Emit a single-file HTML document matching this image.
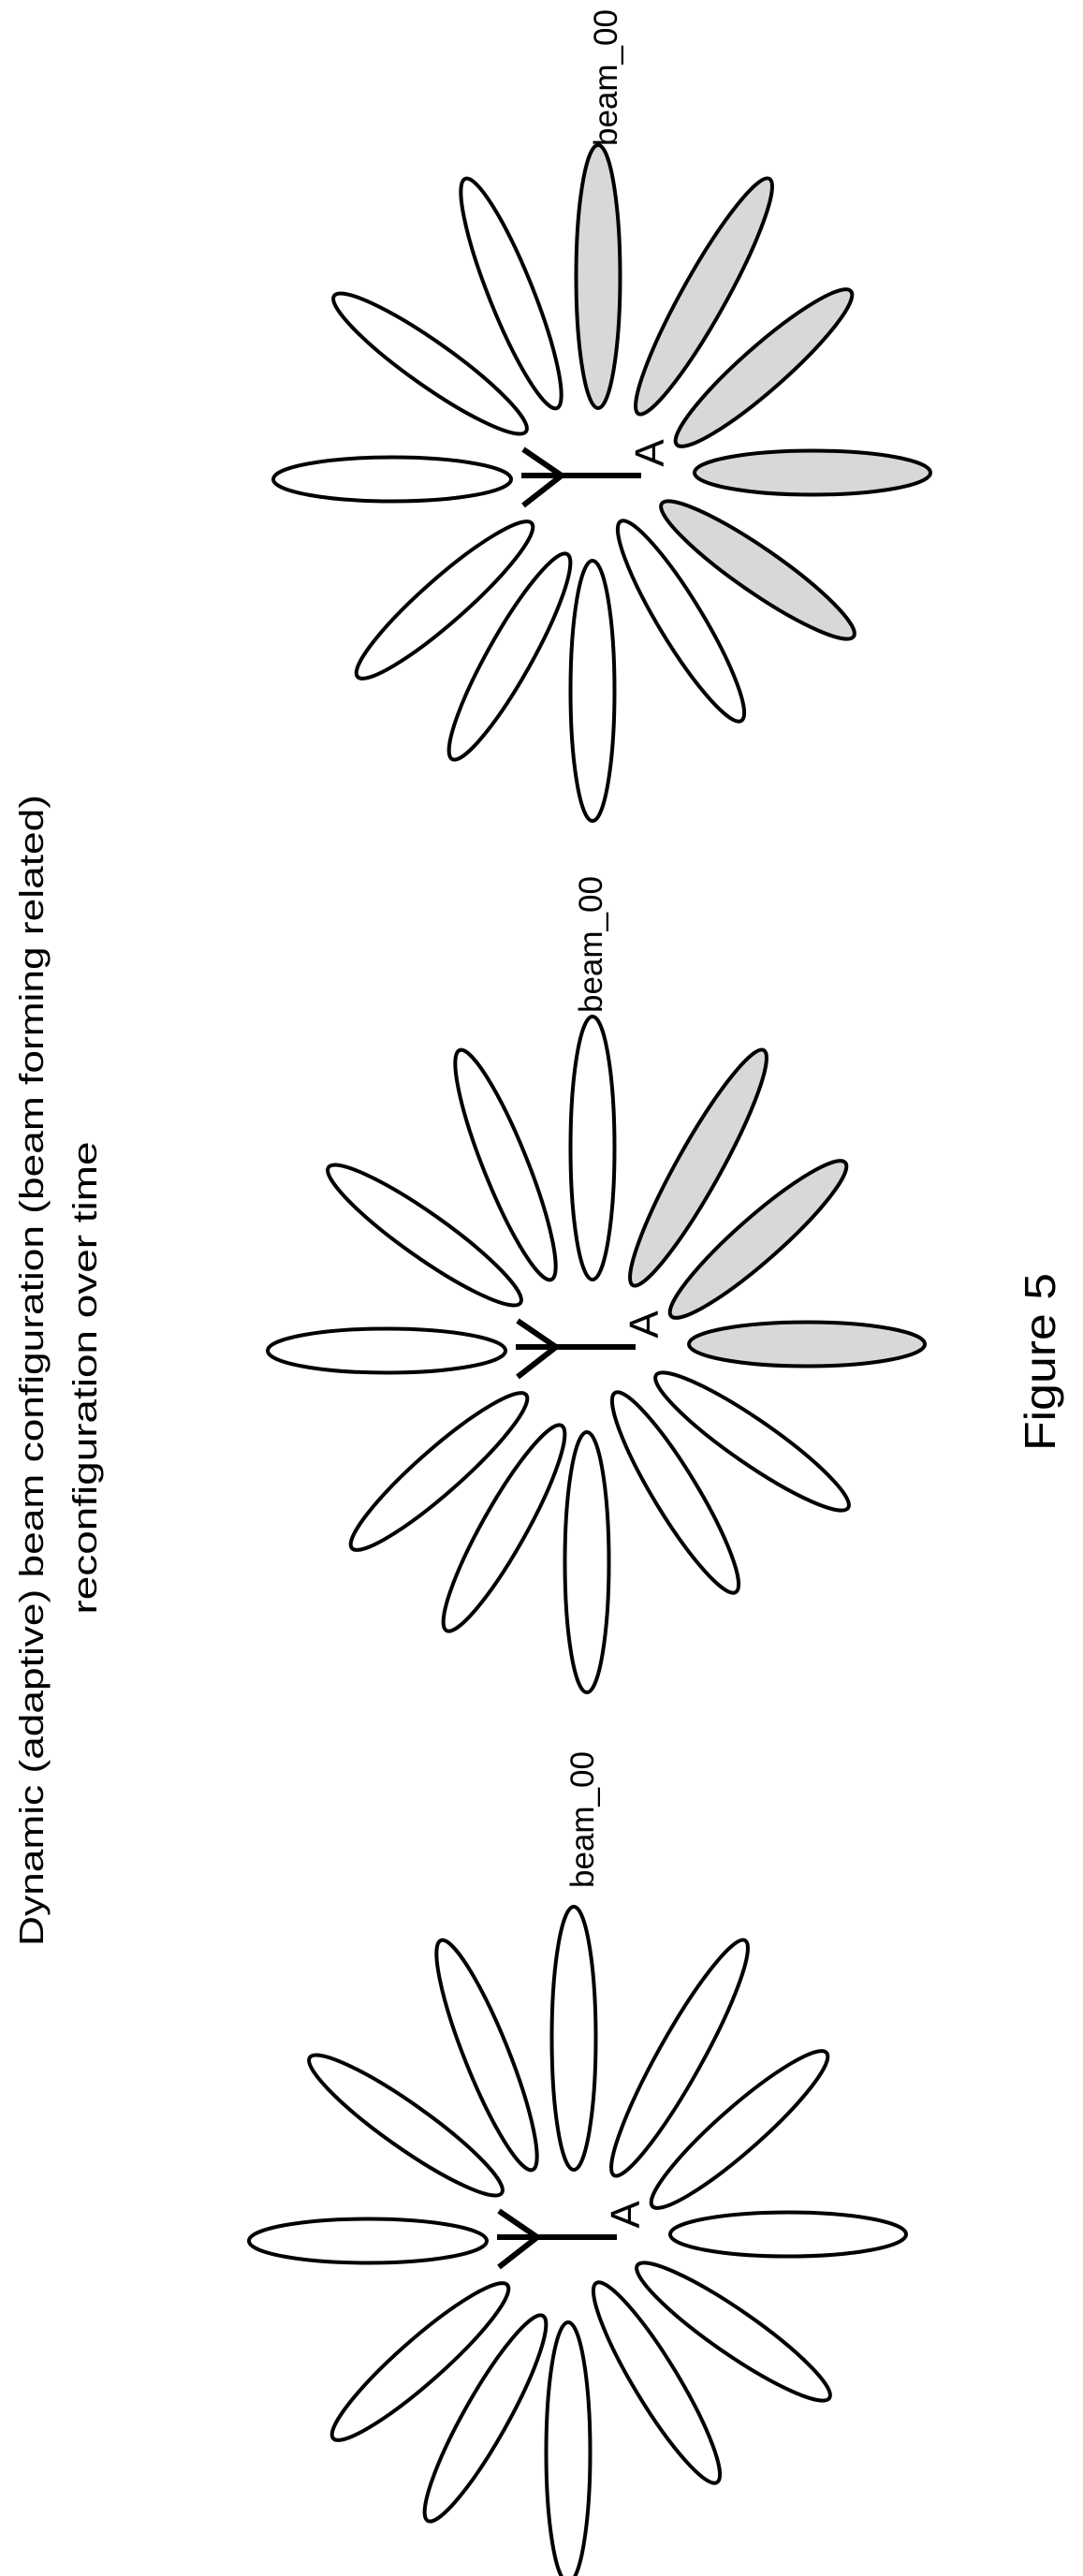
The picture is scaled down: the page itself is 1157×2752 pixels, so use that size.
<!DOCTYPE html>
<html><head><meta charset="utf-8"><style>
html,body{margin:0;padding:0;background:#fff;}
svg{display:block;}
text{font-family:"Liberation Sans",sans-serif;fill:#000;}
</style></head>
<body>
<svg id="fig" width="1157" height="2752" viewBox="0 0 1157 2752" xmlns="http://www.w3.org/2000/svg">
  <text transform="translate(46,1464) rotate(-90)" text-anchor="middle" font-size="36" textLength="1230" lengthAdjust="spacingAndGlyphs">Dynamic (adaptive) beam configuration (beam forming related)</text>
  <text transform="translate(103,1472) rotate(-90)" text-anchor="middle" font-size="36" textLength="505" lengthAdjust="spacingAndGlyphs">reconfiguration over time</text>
  <text transform="translate(1127,1455) rotate(-90)" text-anchor="middle" font-size="46" textLength="190" lengthAdjust="spacingAndGlyphs">Figure 5</text>
  <g id="flowers"></g>
</svg>
<script>
// lobe template: inner and outer endpoints relative to flower centre
const lobeInner = [[-4,-77],[39,-71],[80,-38],[99,-8],[64,25],[20,44],[-10,86],[-37,79],[-75,46],[-97,-1],[-81,-52],[-48,-77]];
const lobeOuter = [[-4,-358],[179,-322],[266,-202],[351,-8],[269,167],[149,257],[-10,364],[-160,298],[-261,210],[-351,-1],[-286,-197],[-146,-322]];
const flowerCenters = [[643,513],[637,1444],[617,2395]];
const shadedLobes = [[0,1,2,3,4],[1,2,3],[]];
const labelOffsets = [[16,-357],[6,-362],[17,-378]];

const NS = "http://www.w3.org/2000/svg";
const root = document.getElementById('flowers');
flowerCenters.forEach((c, fi) => {
  const g = document.createElementNS(NS, 'g');
  
  
  root.appendChild(g);
  lobeInner.forEach((p1, li) => {
    const p2 = lobeOuter[li];
    const x1 = c[0] + p1[0], y1 = c[1] + p1[1], x2 = c[0] + p2[0], y2 = c[1] + p2[1];
    const cx = (x1 + x2) / 2, cy = (y1 + y2) / 2;
    const len = Math.hypot(x2 - x1, y2 - y1);
    const ang = Math.atan2(y2 - y1, x2 - x1) * 180 / Math.PI;
    const e = document.createElementNS(NS, 'ellipse');
    
    
    e.setAttribute('cx', cx); e.setAttribute('cy', cy);
    e.setAttribute('rx', len / 2); e.setAttribute('ry', 23.5);
    e.setAttribute('transform', `rotate(${ang} ${cx} ${cy})`);
    e.setAttribute('fill', shadedLobes[fi].includes(li) ? '#d8d8d8' : '#fff');
    e.setAttribute('stroke', '#000'); e.setAttribute('stroke-width', '4');
    g.appendChild(e);
  });
  const ant = document.createElementNS(NS, 'path');
  
  
  const X = c[0], Y = c[1];
  ant.setAttribute('d', `M${X-84} ${Y-33} L${X-43} ${Y-5} L${X-84} ${Y+27} M${X-86} ${Y-5} L${X+42} ${Y-5}`);
  ant.setAttribute('stroke', '#000'); ant.setAttribute('stroke-width', '6'); ant.setAttribute('fill', 'none');
  g.appendChild(ant);
  const a = document.createElementNS(NS, 'text');
  
  
  a.setAttribute('transform', `translate(${X+66},${Y-29}) rotate(-90)`);
  a.setAttribute('text-anchor', 'middle'); a.setAttribute('font-size', '44');
  a.textContent = 'A';
  g.appendChild(a);
  const lb = document.createElementNS(NS, 'text');
  
  
  lb.setAttribute('transform', `translate(${X+labelOffsets[fi][0]},${Y+labelOffsets[fi][1]}) rotate(-90)`);
  lb.setAttribute('font-size', '35');
  lb.textContent = 'beam_00';
  g.appendChild(lb);
});
</script>
</body></html>
